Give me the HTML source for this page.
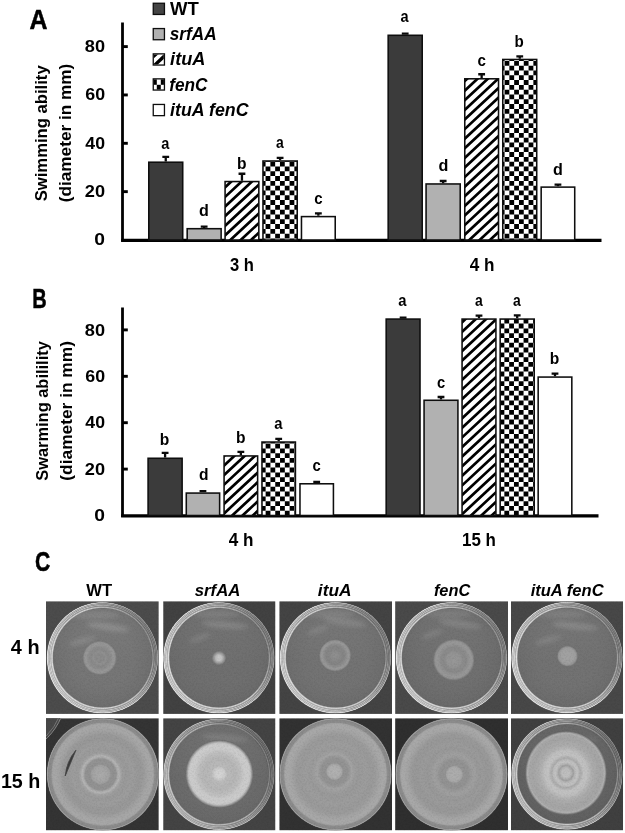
<!DOCTYPE html>
<html lang="en"><head><meta charset="utf-8"><title>Figure</title>
<style>html,body{margin:0;padding:0;background:#fff}body{width:625px;height:833px;overflow:hidden}svg{display:block}text{font-family:'Liberation Sans', 'DejaVu Sans', sans-serif;font-weight:bold;fill:#000}</style></head><body>
<svg width="625" height="833" viewBox="0 0 625 833">
<defs>
<clipPath id="csw3"><rect x="153.9" y="54.5" width="9.9" height="9.9"/></clipPath>
<filter id="noise" x="0" y="0" width="100%" height="100%" color-interpolation-filters="sRGB"><feTurbulence type="fractalNoise" baseFrequency="0.55" numOctaves="2" seed="7"/><feColorMatrix type="matrix" values="0 0 0 0 0  0 0 0 0 0  0 0 0 0 0  -0.7 0 0 0 0.42"/></filter>
<filter id="b1" x="-10%" y="-10%" width="120%" height="120%"><feGaussianBlur stdDeviation="0.7"/></filter>
<filter id="b2" x="-30%" y="-100%" width="160%" height="300%"><feGaussianBlur stdDeviation="2.2"/></filter>
<linearGradient id="rimshade" x1="0" y1="0.75" x2="1" y2="0.25"><stop offset="0" stop-color="#fff" stop-opacity="0.32"/><stop offset="0.45" stop-color="#fff" stop-opacity="0.0"/><stop offset="0.55" stop-color="#000" stop-opacity="0.0"/><stop offset="1" stop-color="#000" stop-opacity="0.34"/></linearGradient>
<linearGradient id="toplight" x1="0" y1="0" x2="0" y2="1"><stop offset="0" stop-color="#fff" stop-opacity="1"/><stop offset="0.55" stop-color="#fff" stop-opacity="0"/><stop offset="1" stop-color="#000" stop-opacity="0.35"/></linearGradient>
<radialGradient id="c1" gradientUnits="userSpaceOnUse" cx="99.70" cy="657.90" r="17.00"><stop offset="0.0000" stop-color="#8e8e8e"/><stop offset="0.2353" stop-color="#8b8b8b"/><stop offset="0.3529" stop-color="#919191"/><stop offset="0.5000" stop-color="#8a8a8a"/><stop offset="0.6471" stop-color="#8e8e8e"/><stop offset="0.7941" stop-color="#989898"/><stop offset="0.9000" stop-color="#969696"/><stop offset="0.9647" stop-color="#828282"/><stop offset="1.0000" stop-color="#787878"/></radialGradient>
<clipPath id="ct1"><rect x="46.00" y="601.20" width="112.80" height="112.70"/></clipPath>
<clipPath id="cd1"><circle cx="102.50" cy="657.80" r="49.6"/></clipPath>
<radialGradient id="dg1" gradientUnits="userSpaceOnUse" cx="102.50" cy="657.80" r="55.72"><stop offset="0.0000" stop-color="#777777"/><stop offset="0.5384" stop-color="#767676"/><stop offset="0.8256" stop-color="#717171"/><stop offset="0.8848" stop-color="#6f6f6f"/><stop offset="0.8948" stop-color="#a5a5a5"/><stop offset="0.9065" stop-color="#dadada"/><stop offset="0.9182" stop-color="#acacac"/><stop offset="0.9299" stop-color="#969696"/><stop offset="0.9416" stop-color="#c8c8c8"/><stop offset="0.9533" stop-color="#9a9a9a"/><stop offset="0.9649" stop-color="#bababa"/><stop offset="0.9766" stop-color="#a0a0a0"/><stop offset="0.9850" stop-color="#dcdcdc"/><stop offset="0.9950" stop-color="#d2d2d2"/><stop offset="1.0000" stop-color="#787878"/></radialGradient>
<radialGradient id="c2" gradientUnits="userSpaceOnUse" cx="219.00" cy="658.00" r="7.60"><stop offset="0.0000" stop-color="#c8c8c8"/><stop offset="0.3289" stop-color="#c2c2c2"/><stop offset="0.5263" stop-color="#aeaeae"/><stop offset="0.7237" stop-color="#929292"/><stop offset="0.9211" stop-color="#747474"/><stop offset="1.0000" stop-color="#6e6e6e"/></radialGradient>
<clipPath id="ct2"><rect x="163.15" y="601.20" width="112.35" height="112.70"/></clipPath>
<clipPath id="cd2"><circle cx="218.90" cy="657.80" r="49.6"/></clipPath>
<radialGradient id="dg2" gradientUnits="userSpaceOnUse" cx="218.90" cy="657.80" r="55.72"><stop offset="0.0000" stop-color="#707070"/><stop offset="0.5384" stop-color="#6f6f6f"/><stop offset="0.8256" stop-color="#6c6c6c"/><stop offset="0.8848" stop-color="#6a6a6a"/><stop offset="0.8948" stop-color="#a5a5a5"/><stop offset="0.9065" stop-color="#dadada"/><stop offset="0.9182" stop-color="#acacac"/><stop offset="0.9299" stop-color="#969696"/><stop offset="0.9416" stop-color="#c8c8c8"/><stop offset="0.9533" stop-color="#9a9a9a"/><stop offset="0.9649" stop-color="#bababa"/><stop offset="0.9766" stop-color="#a0a0a0"/><stop offset="0.9850" stop-color="#dcdcdc"/><stop offset="0.9950" stop-color="#d2d2d2"/><stop offset="1.0000" stop-color="#787878"/></radialGradient>
<radialGradient id="c3" gradientUnits="userSpaceOnUse" cx="335.10" cy="655.40" r="16.20"><stop offset="0.0000" stop-color="#929292"/><stop offset="0.1235" stop-color="#8e8e8e"/><stop offset="0.3704" stop-color="#878787"/><stop offset="0.5556" stop-color="#858585"/><stop offset="0.7099" stop-color="#8f8f8f"/><stop offset="0.8148" stop-color="#999999"/><stop offset="0.9012" stop-color="#939393"/><stop offset="0.9630" stop-color="#7c7c7c"/><stop offset="1.0000" stop-color="#737373"/></radialGradient>
<clipPath id="ct3"><rect x="279.25" y="601.20" width="112.75" height="112.70"/></clipPath>
<clipPath id="cd3"><circle cx="335.50" cy="657.80" r="49.6"/></clipPath>
<radialGradient id="dg3" gradientUnits="userSpaceOnUse" cx="335.50" cy="657.80" r="55.72"><stop offset="0.0000" stop-color="#747474"/><stop offset="0.5384" stop-color="#737373"/><stop offset="0.8256" stop-color="#6f6f6f"/><stop offset="0.8848" stop-color="#6d6d6d"/><stop offset="0.8948" stop-color="#a5a5a5"/><stop offset="0.9065" stop-color="#dadada"/><stop offset="0.9182" stop-color="#acacac"/><stop offset="0.9299" stop-color="#969696"/><stop offset="0.9416" stop-color="#c8c8c8"/><stop offset="0.9533" stop-color="#9a9a9a"/><stop offset="0.9649" stop-color="#bababa"/><stop offset="0.9766" stop-color="#a0a0a0"/><stop offset="0.9850" stop-color="#dcdcdc"/><stop offset="0.9950" stop-color="#d2d2d2"/><stop offset="1.0000" stop-color="#787878"/></radialGradient>
<radialGradient id="c4" gradientUnits="userSpaceOnUse" cx="453.80" cy="659.80" r="20.80"><stop offset="0.0000" stop-color="#9a9a9a"/><stop offset="0.0962" stop-color="#969696"/><stop offset="0.3365" stop-color="#949494"/><stop offset="0.4327" stop-color="#8c8c8c"/><stop offset="0.6010" stop-color="#8a8a8a"/><stop offset="0.6971" stop-color="#929292"/><stop offset="0.8173" stop-color="#989898"/><stop offset="0.9038" stop-color="#949494"/><stop offset="0.9615" stop-color="#7e7e7e"/><stop offset="1.0000" stop-color="#747474"/></radialGradient>
<clipPath id="ct4"><rect x="395.10" y="601.20" width="112.90" height="112.70"/></clipPath>
<clipPath id="cd4"><circle cx="451.50" cy="657.80" r="49.6"/></clipPath>
<radialGradient id="dg4" gradientUnits="userSpaceOnUse" cx="451.50" cy="657.80" r="55.72"><stop offset="0.0000" stop-color="#717171"/><stop offset="0.5384" stop-color="#707070"/><stop offset="0.8256" stop-color="#6c6c6c"/><stop offset="0.8848" stop-color="#6a6a6a"/><stop offset="0.8948" stop-color="#a5a5a5"/><stop offset="0.9065" stop-color="#dadada"/><stop offset="0.9182" stop-color="#acacac"/><stop offset="0.9299" stop-color="#969696"/><stop offset="0.9416" stop-color="#c8c8c8"/><stop offset="0.9533" stop-color="#9a9a9a"/><stop offset="0.9649" stop-color="#bababa"/><stop offset="0.9766" stop-color="#a0a0a0"/><stop offset="0.9850" stop-color="#dcdcdc"/><stop offset="0.9950" stop-color="#d2d2d2"/><stop offset="1.0000" stop-color="#787878"/></radialGradient>
<radialGradient id="c5" gradientUnits="userSpaceOnUse" cx="567.50" cy="656.10" r="10.80"><stop offset="0.0000" stop-color="#a2a2a2"/><stop offset="0.5556" stop-color="#a0a0a0"/><stop offset="0.7407" stop-color="#9c9c9c"/><stop offset="0.8519" stop-color="#929292"/><stop offset="0.9444" stop-color="#787878"/><stop offset="1.0000" stop-color="#717171"/></radialGradient>
<clipPath id="ct5"><rect x="511.00" y="601.20" width="112.10" height="112.70"/></clipPath>
<clipPath id="cd5"><circle cx="567.00" cy="657.50" r="49.6"/></clipPath>
<radialGradient id="dg5" gradientUnits="userSpaceOnUse" cx="567.00" cy="657.50" r="55.72"><stop offset="0.0000" stop-color="#737373"/><stop offset="0.5384" stop-color="#727272"/><stop offset="0.8256" stop-color="#6e6e6e"/><stop offset="0.8848" stop-color="#6c6c6c"/><stop offset="0.8948" stop-color="#a5a5a5"/><stop offset="0.9065" stop-color="#dadada"/><stop offset="0.9182" stop-color="#acacac"/><stop offset="0.9299" stop-color="#969696"/><stop offset="0.9416" stop-color="#c8c8c8"/><stop offset="0.9533" stop-color="#9a9a9a"/><stop offset="0.9649" stop-color="#bababa"/><stop offset="0.9766" stop-color="#a0a0a0"/><stop offset="0.9850" stop-color="#dcdcdc"/><stop offset="0.9950" stop-color="#d2d2d2"/><stop offset="1.0000" stop-color="#787878"/></radialGradient>
<radialGradient id="c6" gradientUnits="userSpaceOnUse" cx="100.60" cy="774.40" r="24.00"><stop offset="0.0000" stop-color="#acacac"/><stop offset="0.1250" stop-color="#a8a8a8"/><stop offset="0.2500" stop-color="#a6a6a6"/><stop offset="0.3750" stop-color="#a0a0a0"/><stop offset="0.4375" stop-color="#929292"/><stop offset="0.6458" stop-color="#939393"/><stop offset="0.7167" stop-color="#acacac"/><stop offset="0.7750" stop-color="#b4b4b4"/><stop offset="0.8333" stop-color="#a6a6a6"/><stop offset="0.9167" stop-color="#9d9d9d"/><stop offset="1.0000" stop-color="#9b9b9b"/></radialGradient>
<clipPath id="ct6"><rect x="46.00" y="718.20" width="112.80" height="112.20"/></clipPath>
<clipPath id="cd6"><circle cx="102.90" cy="774.30" r="49.6"/></clipPath>
<radialGradient id="dg6" gradientUnits="userSpaceOnUse" cx="102.90" cy="774.30" r="56.20"><stop offset="0.0000" stop-color="#9a9a9a"/><stop offset="0.4270" stop-color="#9a9a9a"/><stop offset="0.5338" stop-color="#9d9d9d"/><stop offset="0.6406" stop-color="#989898"/><stop offset="0.7117" stop-color="#9a9a9a"/><stop offset="0.7829" stop-color="#a3a3a3"/><stop offset="0.8363" stop-color="#a7a7a7"/><stop offset="0.8897" stop-color="#a7a7a7"/><stop offset="0.9075" stop-color="#9f9f9f"/><stop offset="0.9217" stop-color="#8e8e8e"/><stop offset="0.9715" stop-color="#888888"/><stop offset="0.9822" stop-color="#a0a0a0"/><stop offset="0.9929" stop-color="#969696"/><stop offset="1.0000" stop-color="#5a5a5a"/></radialGradient>
<radialGradient id="c7" gradientUnits="userSpaceOnUse" cx="219.40" cy="773.90" r="34.10"><stop offset="0.0000" stop-color="#d4d4d4"/><stop offset="0.1173" stop-color="#d2d2d2"/><stop offset="0.1760" stop-color="#c8c8c8"/><stop offset="0.2346" stop-color="#bababa"/><stop offset="0.4692" stop-color="#b6b6b6"/><stop offset="0.6158" stop-color="#bebebe"/><stop offset="0.7331" stop-color="#cacaca"/><stop offset="0.8651" stop-color="#cccccc"/><stop offset="0.9091" stop-color="#c2c2c2"/><stop offset="0.9531" stop-color="#969696"/><stop offset="0.9824" stop-color="#747474"/><stop offset="1.0000" stop-color="#6a6a6a"/></radialGradient>
<clipPath id="ct7"><rect x="163.15" y="718.20" width="112.35" height="112.20"/></clipPath>
<clipPath id="cd7"><circle cx="218.90" cy="774.30" r="49.6"/></clipPath>
<radialGradient id="dg7" gradientUnits="userSpaceOnUse" cx="218.90" cy="774.30" r="55.72"><stop offset="0.0000" stop-color="#6e6e6e"/><stop offset="0.5384" stop-color="#6d6d6d"/><stop offset="0.8256" stop-color="#6a6a6a"/><stop offset="0.8848" stop-color="#686868"/><stop offset="0.8948" stop-color="#8e8e8e"/><stop offset="0.9065" stop-color="#bbbbbb"/><stop offset="0.9182" stop-color="#949494"/><stop offset="0.9299" stop-color="#818181"/><stop offset="0.9416" stop-color="#acacac"/><stop offset="0.9533" stop-color="#848484"/><stop offset="0.9649" stop-color="#a0a0a0"/><stop offset="0.9766" stop-color="#8a8a8a"/><stop offset="0.9850" stop-color="#bdbdbd"/><stop offset="0.9950" stop-color="#b5b5b5"/><stop offset="1.0000" stop-color="#676767"/></radialGradient>
<radialGradient id="c8" gradientUnits="userSpaceOnUse" cx="334.50" cy="771.60" r="24.00"><stop offset="0.0000" stop-color="#b2b2b2"/><stop offset="0.2500" stop-color="#aeaeae"/><stop offset="0.3167" stop-color="#a4a4a4"/><stop offset="0.3583" stop-color="#939393"/><stop offset="0.5417" stop-color="#939393"/><stop offset="0.6458" stop-color="#9b9b9b"/><stop offset="0.7292" stop-color="#a4a4a4"/><stop offset="0.8333" stop-color="#9e9e9e"/><stop offset="1.0000" stop-color="#9a9a9a"/></radialGradient>
<clipPath id="ct8"><rect x="279.25" y="718.20" width="112.75" height="112.20"/></clipPath>
<clipPath id="cd8"><circle cx="335.50" cy="774.30" r="49.6"/></clipPath>
<radialGradient id="dg8" gradientUnits="userSpaceOnUse" cx="335.50" cy="774.30" r="56.20"><stop offset="0.0000" stop-color="#9a9a9a"/><stop offset="0.4270" stop-color="#9a9a9a"/><stop offset="0.5338" stop-color="#9d9d9d"/><stop offset="0.6406" stop-color="#9a9a9a"/><stop offset="0.7117" stop-color="#9c9c9c"/><stop offset="0.7829" stop-color="#a4a4a4"/><stop offset="0.8363" stop-color="#a8a8a8"/><stop offset="0.8897" stop-color="#a8a8a8"/><stop offset="0.9075" stop-color="#a0a0a0"/><stop offset="0.9217" stop-color="#8e8e8e"/><stop offset="0.9715" stop-color="#888888"/><stop offset="0.9822" stop-color="#a0a0a0"/><stop offset="0.9929" stop-color="#969696"/><stop offset="1.0000" stop-color="#5a5a5a"/></radialGradient>
<radialGradient id="c9" gradientUnits="userSpaceOnUse" cx="454.30" cy="774.40" r="27.00"><stop offset="0.0000" stop-color="#adadad"/><stop offset="0.2222" stop-color="#ababab"/><stop offset="0.2889" stop-color="#a5a5a5"/><stop offset="0.3259" stop-color="#949494"/><stop offset="0.5185" stop-color="#929292"/><stop offset="0.6296" stop-color="#9b9b9b"/><stop offset="0.7407" stop-color="#a0a0a0"/><stop offset="0.8889" stop-color="#9a9a9a"/><stop offset="1.0000" stop-color="#989898"/></radialGradient>
<clipPath id="ct9"><rect x="395.10" y="718.20" width="112.90" height="112.20"/></clipPath>
<clipPath id="cd9"><circle cx="451.50" cy="774.30" r="49.6"/></clipPath>
<radialGradient id="dg9" gradientUnits="userSpaceOnUse" cx="451.50" cy="774.30" r="56.20"><stop offset="0.0000" stop-color="#989898"/><stop offset="0.4270" stop-color="#989898"/><stop offset="0.5338" stop-color="#9b9b9b"/><stop offset="0.6406" stop-color="#989898"/><stop offset="0.7117" stop-color="#9a9a9a"/><stop offset="0.7829" stop-color="#a4a4a4"/><stop offset="0.8363" stop-color="#a8a8a8"/><stop offset="0.8897" stop-color="#a8a8a8"/><stop offset="0.9075" stop-color="#a0a0a0"/><stop offset="0.9217" stop-color="#8e8e8e"/><stop offset="0.9715" stop-color="#888888"/><stop offset="0.9822" stop-color="#a0a0a0"/><stop offset="0.9929" stop-color="#969696"/><stop offset="1.0000" stop-color="#5a5a5a"/></radialGradient>
<radialGradient id="c10" gradientUnits="userSpaceOnUse" cx="566.00" cy="773.00" r="42.40"><stop offset="0.0000" stop-color="#c0c0c0"/><stop offset="0.0943" stop-color="#bebebe"/><stop offset="0.1415" stop-color="#b0b0b0"/><stop offset="0.1769" stop-color="#a0a0a0"/><stop offset="0.2123" stop-color="#b4b4b4"/><stop offset="0.2594" stop-color="#c2c2c2"/><stop offset="0.3066" stop-color="#bebebe"/><stop offset="0.3420" stop-color="#acacac"/><stop offset="0.3774" stop-color="#b2b2b2"/><stop offset="0.4245" stop-color="#c2c2c2"/><stop offset="0.5189" stop-color="#c0c0c0"/><stop offset="0.5896" stop-color="#b4b4b4"/><stop offset="0.6604" stop-color="#acacac"/><stop offset="0.8019" stop-color="#a5a5a5"/><stop offset="0.8962" stop-color="#a7a7a7"/><stop offset="0.9340" stop-color="#b0b0b0"/><stop offset="0.9575" stop-color="#969696"/><stop offset="0.9811" stop-color="#6e6e6e"/><stop offset="1.0000" stop-color="#626262"/></radialGradient>
<clipPath id="ct10"><rect x="511.00" y="718.20" width="112.10" height="112.20"/></clipPath>
<clipPath id="cd10"><circle cx="567.00" cy="774.00" r="49.6"/></clipPath>
<radialGradient id="dg10" gradientUnits="userSpaceOnUse" cx="567.00" cy="774.00" r="55.72"><stop offset="0.0000" stop-color="#666666"/><stop offset="0.5384" stop-color="#656565"/><stop offset="0.8256" stop-color="#626262"/><stop offset="0.8848" stop-color="#606060"/><stop offset="0.8948" stop-color="#949494"/><stop offset="0.9065" stop-color="#c4c4c4"/><stop offset="0.9182" stop-color="#9b9b9b"/><stop offset="0.9299" stop-color="#878787"/><stop offset="0.9416" stop-color="#b4b4b4"/><stop offset="0.9533" stop-color="#8b8b8b"/><stop offset="0.9649" stop-color="#a7a7a7"/><stop offset="0.9766" stop-color="#909090"/><stop offset="0.9850" stop-color="#c6c6c6"/><stop offset="0.9950" stop-color="#bdbdbd"/><stop offset="1.0000" stop-color="#6c6c6c"/></radialGradient>
<clipPath id="hc1"><rect x="225.08" y="181.55" width="33.75" height="58.45"/></clipPath>
<clipPath id="kc2"><rect x="262.97" y="161.00" width="34.25" height="79.00"/></clipPath>
<clipPath id="hc3"><rect x="464.77" y="78.80" width="33.75" height="161.20"/></clipPath>
<clipPath id="kc4"><rect x="502.77" y="59.46" width="33.95" height="180.54"/></clipPath>
<clipPath id="hc5"><rect x="224.08" y="455.95" width="33.55" height="59.55"/></clipPath>
<clipPath id="kc6"><rect x="261.97" y="442.03" width="33.45" height="73.47"/></clipPath>
<clipPath id="hc7"><rect x="462.07" y="319.07" width="33.85" height="196.43"/></clipPath>
<clipPath id="kc8"><rect x="500.17" y="319.07" width="34.05" height="196.43"/></clipPath>
</defs>
<path d="M122.5 22.50V241.50" stroke="#000" stroke-width="2.8" fill="none"/>
<path d="M121.1 240.40H601.50" stroke="#000" stroke-width="3.1" fill="none"/>
<path d="M122.5 46.60H127.8" stroke="#000" stroke-width="2.9" fill="none"/>
<path d="M122.5 94.95H127.8" stroke="#000" stroke-width="2.9" fill="none"/>
<path d="M122.5 143.30H127.8" stroke="#000" stroke-width="2.9" fill="none"/>
<path d="M122.5 191.65H127.8" stroke="#000" stroke-width="2.9" fill="none"/>
<path d="M122.5 307.50V517.00" stroke="#000" stroke-width="2.8" fill="none"/>
<path d="M121.1 515.90H598.50" stroke="#000" stroke-width="3.1" fill="none"/>
<path d="M122.5 329.90H127.8" stroke="#000" stroke-width="2.9" fill="none"/>
<path d="M122.5 376.30H127.8" stroke="#000" stroke-width="2.9" fill="none"/>
<path d="M122.5 422.70H127.8" stroke="#000" stroke-width="2.9" fill="none"/>
<path d="M122.5 469.10H127.8" stroke="#000" stroke-width="2.9" fill="none"/>
<path d="M165.75 161.43V156.83M162.35 156.83H169.15" stroke="#0a0a0a" stroke-width="2.3" fill="none"/>
<rect x="148.78" y="162.21" width="33.95" height="77.79" fill="#3b3b3b"/>
<rect x="148.78" y="162.21" width="33.95" height="77.79" fill="none" stroke="#0e0e0e" stroke-width="1.55"/>
<path d="M204.15 227.91V226.71M200.75 226.71H207.55" stroke="#0a0a0a" stroke-width="2.3" fill="none"/>
<rect x="187.18" y="228.69" width="33.95" height="11.31" fill="#b1b1b1"/>
<rect x="187.18" y="228.69" width="33.95" height="11.31" fill="none" stroke="#0e0e0e" stroke-width="1.55"/>
<path d="M241.95 180.77V173.77M238.55 173.77H245.35" stroke="#0a0a0a" stroke-width="2.3" fill="none"/>
<rect x="225.08" y="181.55" width="33.75" height="58.45" fill="#fff"/>
<path clip-path="url(#hc1)" d="M223.08 179.58L260.83 144.47M223.08 189.18L260.83 154.07M223.08 198.78L260.83 163.67M223.08 208.38L260.83 173.27M223.08 217.98L260.83 182.87M223.08 227.58L260.83 192.47M223.08 237.18L260.83 202.07M223.08 246.78L260.83 211.67M223.08 256.38L260.83 221.27M223.08 265.98L260.83 230.87M223.08 275.58L260.83 240.47M223.08 285.18L260.83 250.07" stroke="#000" stroke-width="2.70" fill="none"/>
<rect x="225.08" y="181.55" width="33.75" height="58.45" fill="none" stroke="#0e0e0e" stroke-width="1.55"/>
<path d="M280.10 160.22V157.82M276.70 157.82H283.50" stroke="#0a0a0a" stroke-width="2.3" fill="none"/>
<rect x="262.97" y="161.00" width="34.25" height="79.00" fill="#fff"/>
<path clip-path="url(#kc2)" d="M258.36 147.30V242.00M267.96 147.30V242.00M277.56 147.30V242.00M287.16 147.30V242.00M296.76 147.30V242.00M306.36 147.30V242.00" stroke="#000" stroke-width="4.80" stroke-dasharray="4.80 4.80" fill="none"/><path clip-path="url(#kc2)" d="M263.16 152.10V242.00M272.76 152.10V242.00M282.36 152.10V242.00M291.96 152.10V242.00M301.56 152.10V242.00" stroke="#000" stroke-width="4.80" stroke-dasharray="4.80 4.80" fill="none"/>
<rect x="262.97" y="161.00" width="34.25" height="79.00" fill="none" stroke="#0e0e0e" stroke-width="1.55"/>
<path d="M318.35 215.82V213.42M314.95 213.42H321.75" stroke="#0a0a0a" stroke-width="2.3" fill="none"/>
<rect x="301.47" y="216.60" width="33.75" height="23.40" fill="#fff"/>
<rect x="301.47" y="216.60" width="33.75" height="23.40" fill="none" stroke="#0e0e0e" stroke-width="1.55"/>
<path d="M405.20 34.51V33.71M401.80 33.71H408.60" stroke="#0a0a0a" stroke-width="2.3" fill="none"/>
<rect x="388.17" y="35.29" width="34.05" height="204.71" fill="#3b3b3b"/>
<rect x="388.17" y="35.29" width="34.05" height="204.71" fill="none" stroke="#0e0e0e" stroke-width="1.55"/>
<path d="M443.15 183.19V180.99M439.75 180.99H446.55" stroke="#0a0a0a" stroke-width="2.3" fill="none"/>
<rect x="426.07" y="183.96" width="34.15" height="56.04" fill="#b1b1b1"/>
<rect x="426.07" y="183.96" width="34.15" height="56.04" fill="none" stroke="#0e0e0e" stroke-width="1.55"/>
<path d="M481.65 78.03V74.23M478.25 74.23H485.05" stroke="#0a0a0a" stroke-width="2.3" fill="none"/>
<rect x="464.77" y="78.80" width="33.75" height="161.20" fill="#fff"/>
<path clip-path="url(#hc3)" d="M462.77 73.28L500.53 38.17M462.77 82.88L500.53 47.77M462.77 92.48L500.53 57.37M462.77 102.08L500.53 66.97M462.77 111.68L500.53 76.57M462.77 121.28L500.53 86.17M462.77 130.88L500.53 95.77M462.77 140.48L500.53 105.37M462.77 150.08L500.53 114.97M462.77 159.68L500.53 124.57M462.77 169.28L500.53 134.17M462.77 178.88L500.53 143.77M462.77 188.48L500.53 153.37M462.77 198.08L500.53 162.97M462.77 207.68L500.53 172.57M462.77 217.28L500.53 182.17M462.77 226.88L500.53 191.77M462.77 236.48L500.53 201.37M462.77 246.08L500.53 210.97M462.77 255.68L500.53 220.57M462.77 265.28L500.53 230.17M462.77 274.88L500.53 239.77M462.77 284.48L500.53 249.37" stroke="#000" stroke-width="2.70" fill="none"/>
<rect x="464.77" y="78.80" width="33.75" height="161.20" fill="none" stroke="#0e0e0e" stroke-width="1.55"/>
<path d="M519.75 58.69V56.29M516.35 56.29H523.15" stroke="#0a0a0a" stroke-width="2.3" fill="none"/>
<rect x="502.77" y="59.46" width="33.95" height="180.54" fill="#fff"/>
<path clip-path="url(#kc4)" d="M497.36 41.70V242.00M506.96 41.70V242.00M516.56 41.70V242.00M526.16 41.70V242.00M535.76 41.70V242.00M545.36 41.70V242.00" stroke="#000" stroke-width="4.80" stroke-dasharray="4.80 4.80" fill="none"/><path clip-path="url(#kc4)" d="M502.16 46.50V242.00M511.76 46.50V242.00M521.36 46.50V242.00M530.96 46.50V242.00M540.56 46.50V242.00" stroke="#000" stroke-width="4.80" stroke-dasharray="4.80 4.80" fill="none"/>
<rect x="502.77" y="59.46" width="33.95" height="180.54" fill="none" stroke="#0e0e0e" stroke-width="1.55"/>
<path d="M557.95 186.33V184.53M554.55 184.53H561.35" stroke="#0a0a0a" stroke-width="2.3" fill="none"/>
<rect x="541.17" y="187.11" width="33.55" height="52.89" fill="#fff"/>
<rect x="541.17" y="187.11" width="33.55" height="52.89" fill="none" stroke="#0e0e0e" stroke-width="1.55"/>
<path d="M165.10 457.50V452.90M161.70 452.90H168.50" stroke="#0a0a0a" stroke-width="2.3" fill="none"/>
<rect x="148.08" y="458.27" width="34.05" height="57.23" fill="#3b3b3b"/>
<rect x="148.08" y="458.27" width="34.05" height="57.23" fill="none" stroke="#0e0e0e" stroke-width="1.55"/>
<path d="M202.95 492.30V491.20M199.55 491.20H206.35" stroke="#0a0a0a" stroke-width="2.3" fill="none"/>
<rect x="186.28" y="493.07" width="33.35" height="22.43" fill="#b1b1b1"/>
<rect x="186.28" y="493.07" width="33.35" height="22.43" fill="none" stroke="#0e0e0e" stroke-width="1.55"/>
<path d="M240.85 455.18V451.78M237.45 451.78H244.25" stroke="#0a0a0a" stroke-width="2.3" fill="none"/>
<rect x="224.08" y="455.95" width="33.55" height="59.55" fill="#fff"/>
<path clip-path="url(#hc5)" d="M222.08 448.13L259.62 413.21M222.08 457.73L259.62 422.81M222.08 467.33L259.62 432.41M222.08 476.93L259.62 442.01M222.08 486.53L259.62 451.61M222.08 496.13L259.62 461.21M222.08 505.73L259.62 470.81M222.08 515.33L259.62 480.41M222.08 524.93L259.62 490.01M222.08 534.53L259.62 499.61M222.08 544.13L259.62 509.21M222.08 553.73L259.62 518.81" stroke="#000" stroke-width="2.70" fill="none"/>
<rect x="224.08" y="455.95" width="33.55" height="59.55" fill="none" stroke="#0e0e0e" stroke-width="1.55"/>
<path d="M278.70 441.26V438.96M275.30 438.96H282.10" stroke="#0a0a0a" stroke-width="2.3" fill="none"/>
<rect x="261.97" y="442.03" width="33.45" height="73.47" fill="#fff"/>
<path clip-path="url(#kc6)" d="M258.44 424.40V517.50M268.04 424.40V517.50M277.64 424.40V517.50M287.24 424.40V517.50M296.84 424.40V517.50M306.44 424.40V517.50" stroke="#000" stroke-width="4.80" stroke-dasharray="4.80 4.80" fill="none"/><path clip-path="url(#kc6)" d="M263.24 429.20V517.50M272.84 429.20V517.50M282.44 429.20V517.50M292.04 429.20V517.50M301.64 429.20V517.50" stroke="#000" stroke-width="4.80" stroke-dasharray="4.80 4.80" fill="none"/>
<rect x="261.97" y="442.03" width="33.45" height="73.47" fill="none" stroke="#0e0e0e" stroke-width="1.55"/>
<path d="M316.70 483.02V481.92M313.30 481.92H320.10" stroke="#0a0a0a" stroke-width="2.3" fill="none"/>
<rect x="299.97" y="483.79" width="33.45" height="31.71" fill="#fff"/>
<rect x="299.97" y="483.79" width="33.45" height="31.71" fill="none" stroke="#0e0e0e" stroke-width="1.55"/>
<path d="M403.10 318.30V317.70M399.70 317.70H406.50" stroke="#0a0a0a" stroke-width="2.3" fill="none"/>
<rect x="386.17" y="319.07" width="33.85" height="196.43" fill="#3b3b3b"/>
<rect x="386.17" y="319.07" width="33.85" height="196.43" fill="none" stroke="#0e0e0e" stroke-width="1.55"/>
<path d="M441.00 399.50V397.00M437.60 397.00H444.40" stroke="#0a0a0a" stroke-width="2.3" fill="none"/>
<rect x="424.07" y="400.27" width="33.85" height="115.23" fill="#b1b1b1"/>
<rect x="424.07" y="400.27" width="33.85" height="115.23" fill="none" stroke="#0e0e0e" stroke-width="1.55"/>
<path d="M479.00 318.30V315.70M475.60 315.70H482.40" stroke="#0a0a0a" stroke-width="2.3" fill="none"/>
<rect x="462.07" y="319.07" width="33.85" height="196.43" fill="#fff"/>
<path clip-path="url(#hc7)" d="M460.07 314.48L497.93 279.28M460.07 324.08L497.93 288.88M460.07 333.68L497.93 298.48M460.07 343.28L497.93 308.08M460.07 352.88L497.93 317.68M460.07 362.48L497.93 327.28M460.07 372.08L497.93 336.88M460.07 381.68L497.93 346.48M460.07 391.28L497.93 356.08M460.07 400.88L497.93 365.68M460.07 410.48L497.93 375.28M460.07 420.08L497.93 384.88M460.07 429.68L497.93 394.48M460.07 439.28L497.93 404.08M460.07 448.88L497.93 413.68M460.07 458.48L497.93 423.28M460.07 468.08L497.93 432.88M460.07 477.68L497.93 442.48M460.07 487.28L497.93 452.08M460.07 496.88L497.93 461.68M460.07 506.48L497.93 471.28M460.07 516.08L497.93 480.88M460.07 525.68L497.93 490.48M460.07 535.28L497.93 500.08M460.07 544.88L497.93 509.68M460.07 554.48L497.93 519.28" stroke="#000" stroke-width="2.70" fill="none"/>
<rect x="462.07" y="319.07" width="33.85" height="196.43" fill="none" stroke="#0e0e0e" stroke-width="1.55"/>
<path d="M517.20 318.30V315.40M513.80 315.40H520.60" stroke="#0a0a0a" stroke-width="2.3" fill="none"/>
<rect x="500.17" y="319.07" width="34.05" height="196.43" fill="#fff"/>
<path clip-path="url(#kc8)" d="M497.16 309.20V517.50M506.76 309.20V517.50M516.36 309.20V517.50M525.96 309.20V517.50M535.56 309.20V517.50M545.16 309.20V517.50" stroke="#000" stroke-width="4.80" stroke-dasharray="4.80 4.80" fill="none"/><path clip-path="url(#kc8)" d="M501.96 314.00V517.50M511.56 314.00V517.50M521.16 314.00V517.50M530.76 314.00V517.50M540.36 314.00V517.50" stroke="#000" stroke-width="4.80" stroke-dasharray="4.80 4.80" fill="none"/>
<rect x="500.17" y="319.07" width="34.05" height="196.43" fill="none" stroke="#0e0e0e" stroke-width="1.55"/>
<path d="M555.00 376.30V373.60M551.60 373.60H558.40" stroke="#0a0a0a" stroke-width="2.3" fill="none"/>
<rect x="538.17" y="377.07" width="33.65" height="138.43" fill="#fff"/>
<rect x="538.17" y="377.07" width="33.65" height="138.43" fill="none" stroke="#0e0e0e" stroke-width="1.55"/>
<rect x="153.25" y="3.25" width="11.20" height="11.20" fill="#444" stroke="#0e0e0e" stroke-width="1.30"/>
<rect x="153.25" y="28.55" width="11.20" height="11.20" fill="#b1b1b1" stroke="#0e0e0e" stroke-width="1.30"/>
<rect x="153.25" y="53.85" width="11.20" height="11.20" fill="#fff" stroke="#0e0e0e" stroke-width="1.30"/>
<rect x="153.25" y="78.85" width="11.20" height="11.20" fill="#fff" stroke="#0e0e0e" stroke-width="1.30"/>
<rect x="153.25" y="104.45" width="11.20" height="11.20" fill="#fff" stroke="#0e0e0e" stroke-width="1.30"/>
<g clip-path="url(#csw3)"><path d="M153.60 66.20L165.60 54.80" stroke="#000" stroke-width="3.4"/><path d="M150.60 58.80L158.60 51.80" stroke="#000" stroke-width="3.4"/></g>
<rect x="153.80" y="79.40" width="3.00" height="5.40" fill="#000"/>
<rect x="160.80" y="79.40" width="3.10" height="5.40" fill="#000"/>
<rect x="156.80" y="84.80" width="4.00" height="4.70" fill="#000"/>
<g clip-path="url(#ct1)">
<rect x="46.00" y="601.20" width="112.80" height="112.70" fill="#4c4c4c"/>
<circle cx="102.50" cy="657.80" r="55.72" fill="url(#dg1)"/>
<circle cx="102.50" cy="657.80" r="49.5" fill="url(#toplight)" opacity="0.04"/>
<g clip-path="url(#cd1)"><ellipse cx="108.0" cy="627.0" rx="22.0" ry="3.5" transform="rotate(8.0 108.0 627.0)" fill="#fff" opacity="0.16" filter="url(#b2)"/><ellipse cx="82.0" cy="641.0" rx="14.0" ry="3.0" transform="rotate(-15.0 82.0 641.0)" fill="#fff" opacity="0.12" filter="url(#b2)"/><ellipse cx="95.0" cy="615.0" rx="25.0" ry="4.0" transform="rotate(0.0 95.0 615.0)" fill="#fff" opacity="0.10" filter="url(#b2)"/><circle cx="99.70" cy="657.90" r="17.00" fill="url(#c1)" opacity="0.96"/></g>
<circle cx="102.50" cy="657.80" r="52.6" fill="none" stroke="url(#rimshade)" stroke-width="6.2"/>
<rect x="46.00" y="601.20" width="112.80" height="112.70" filter="url(#noise)" opacity="0.2"/>
</g>
<g clip-path="url(#ct2)">
<rect x="163.15" y="601.20" width="112.35" height="112.70" fill="#424242"/>
<circle cx="218.90" cy="657.80" r="55.72" fill="url(#dg2)"/>
<circle cx="218.90" cy="657.80" r="49.5" fill="url(#toplight)" opacity="0.04"/>
<g clip-path="url(#cd2)"><ellipse cx="225.0" cy="625.0" rx="24.0" ry="3.5" transform="rotate(5.0 225.0 625.0)" fill="#fff" opacity="0.14" filter="url(#b2)"/><ellipse cx="200.0" cy="638.0" rx="12.0" ry="3.0" transform="rotate(-20.0 200.0 638.0)" fill="#fff" opacity="0.10" filter="url(#b2)"/><ellipse cx="215.0" cy="614.0" rx="25.0" ry="4.0" transform="rotate(0.0 215.0 614.0)" fill="#fff" opacity="0.09" filter="url(#b2)"/><circle cx="219.00" cy="658.00" r="7.60" fill="url(#c2)"/></g>
<circle cx="218.90" cy="657.80" r="52.6" fill="none" stroke="url(#rimshade)" stroke-width="6.2"/>
<rect x="163.15" y="601.20" width="112.35" height="112.70" filter="url(#noise)" opacity="0.2"/>
</g>
<g clip-path="url(#ct3)">
<rect x="279.25" y="601.20" width="112.75" height="112.70" fill="#444444"/>
<circle cx="335.50" cy="657.80" r="55.72" fill="url(#dg3)"/>
<circle cx="335.50" cy="657.80" r="49.5" fill="url(#toplight)" opacity="0.04"/>
<g clip-path="url(#cd3)"><ellipse cx="345.0" cy="622.0" rx="22.0" ry="3.5" transform="rotate(8.0 345.0 622.0)" fill="#fff" opacity="0.13" filter="url(#b2)"/><ellipse cx="318.0" cy="630.0" rx="12.0" ry="3.0" transform="rotate(-20.0 318.0 630.0)" fill="#fff" opacity="0.10" filter="url(#b2)"/><ellipse cx="330.0" cy="614.0" rx="25.0" ry="4.0" transform="rotate(0.0 330.0 614.0)" fill="#fff" opacity="0.09" filter="url(#b2)"/><circle cx="335.10" cy="655.40" r="16.20" fill="url(#c3)"/></g>
<circle cx="335.50" cy="657.80" r="52.6" fill="none" stroke="url(#rimshade)" stroke-width="6.2"/>
<rect x="279.25" y="601.20" width="112.75" height="112.70" filter="url(#noise)" opacity="0.2"/>
</g>
<g clip-path="url(#ct4)">
<rect x="395.10" y="601.20" width="112.90" height="112.70" fill="#4a4a4a"/>
<circle cx="451.50" cy="657.80" r="55.72" fill="url(#dg4)"/>
<circle cx="451.50" cy="657.80" r="49.5" fill="url(#toplight)" opacity="0.04"/>
<g clip-path="url(#cd4)"><ellipse cx="460.0" cy="624.0" rx="22.0" ry="3.5" transform="rotate(8.0 460.0 624.0)" fill="#fff" opacity="0.13" filter="url(#b2)"/><ellipse cx="432.0" cy="634.0" rx="12.0" ry="3.0" transform="rotate(-20.0 432.0 634.0)" fill="#fff" opacity="0.10" filter="url(#b2)"/><ellipse cx="448.0" cy="614.0" rx="25.0" ry="4.0" transform="rotate(0.0 448.0 614.0)" fill="#fff" opacity="0.09" filter="url(#b2)"/><circle cx="453.80" cy="659.80" r="20.80" fill="url(#c4)"/></g>
<circle cx="451.50" cy="657.80" r="52.6" fill="none" stroke="url(#rimshade)" stroke-width="6.2"/>
<rect x="395.10" y="601.20" width="112.90" height="112.70" filter="url(#noise)" opacity="0.2"/>
</g>
<g clip-path="url(#ct5)">
<rect x="511.00" y="601.20" width="112.10" height="112.70" fill="#484848"/>
<circle cx="567.00" cy="657.50" r="55.72" fill="url(#dg5)"/>
<circle cx="567.00" cy="657.50" r="49.5" fill="url(#toplight)" opacity="0.04"/>
<g clip-path="url(#cd5)"><ellipse cx="575.0" cy="626.0" rx="24.0" ry="3.5" transform="rotate(6.0 575.0 626.0)" fill="#fff" opacity="0.14" filter="url(#b2)"/><ellipse cx="548.0" cy="640.0" rx="14.0" ry="3.0" transform="rotate(-15.0 548.0 640.0)" fill="#fff" opacity="0.11" filter="url(#b2)"/><ellipse cx="562.0" cy="614.0" rx="25.0" ry="4.0" transform="rotate(0.0 562.0 614.0)" fill="#fff" opacity="0.09" filter="url(#b2)"/><circle cx="567.50" cy="656.10" r="10.80" fill="url(#c5)"/></g>
<circle cx="567.00" cy="657.50" r="52.6" fill="none" stroke="url(#rimshade)" stroke-width="6.2"/>
<rect x="511.00" y="601.20" width="112.10" height="112.70" filter="url(#noise)" opacity="0.2"/>
</g>
<g clip-path="url(#ct6)">
<rect x="46.00" y="718.20" width="112.80" height="112.20" fill="#343434"/>
<circle cx="3" cy="693" r="63" fill="#484848" stroke="#8e8e8e" stroke-width="0.9"/><circle cx="3" cy="693" r="61" fill="none" stroke="#808080" stroke-width="0.8"/><circle cx="102.90" cy="774.30" r="56.20" fill="url(#dg6)"/>
<g clip-path="url(#cd6)"><circle cx="100.60" cy="774.40" r="24.00" fill="url(#c6)"/><path d="M75.9 750.2Q66.6 761 65.2 776.0Q70.6 763 75.9 750.2Z" fill="#3a3a3a" stroke="#444" stroke-width="0.8"/></g>
<rect x="46.00" y="718.20" width="112.80" height="112.20" filter="url(#noise)" opacity="0.2"/>
</g>
<g clip-path="url(#ct7)">
<rect x="163.15" y="718.20" width="112.35" height="112.20" fill="#444444"/>
<circle cx="218.90" cy="774.30" r="55.72" fill="url(#dg7)"/>
<circle cx="218.90" cy="774.30" r="49.5" fill="url(#toplight)" opacity="0.04"/>
<g clip-path="url(#cd7)"><ellipse cx="225.0" cy="738.0" rx="24.0" ry="3.5" transform="rotate(5.0 225.0 738.0)" fill="#fff" opacity="0.10" filter="url(#b2)"/><circle cx="219.40" cy="773.90" r="34.10" fill="url(#c7)" filter="url(#b1)"/></g>
<circle cx="218.90" cy="774.30" r="52.6" fill="none" stroke="url(#rimshade)" stroke-width="6.2"/>
<rect x="163.15" y="718.20" width="112.35" height="112.20" filter="url(#noise)" opacity="0.2"/>
</g>
<g clip-path="url(#ct8)">
<rect x="279.25" y="718.20" width="112.75" height="112.20" fill="#323232"/>
<circle cx="335.50" cy="774.30" r="56.20" fill="url(#dg8)"/>
<g clip-path="url(#cd8)"><circle cx="334.50" cy="771.60" r="24.00" fill="url(#c8)"/></g>
<rect x="279.25" y="718.20" width="112.75" height="112.20" filter="url(#noise)" opacity="0.2"/>
</g>
<g clip-path="url(#ct9)">
<rect x="395.10" y="718.20" width="112.90" height="112.20" fill="#2f2f2f"/>
<circle cx="451.50" cy="774.30" r="56.20" fill="url(#dg9)"/>
<g clip-path="url(#cd9)"><circle cx="454.30" cy="774.40" r="27.00" fill="url(#c9)"/></g>
<rect x="395.10" y="718.20" width="112.90" height="112.20" filter="url(#noise)" opacity="0.2"/>
</g>
<g clip-path="url(#ct10)">
<rect x="511.00" y="718.20" width="112.10" height="112.20" fill="#404040"/>
<circle cx="567.00" cy="774.00" r="55.72" fill="url(#dg10)"/>
<circle cx="567.00" cy="774.00" r="49.5" fill="url(#toplight)" opacity="0.04"/>
<g clip-path="url(#cd10)"><ellipse cx="575.0" cy="738.0" rx="24.0" ry="3.0" transform="rotate(5.0 575.0 738.0)" fill="#fff" opacity="0.08" filter="url(#b2)"/><circle cx="566.00" cy="773.00" r="42.40" fill="url(#c10)" transform="translate(566.00 773.00) scale(0.9717 1.0000) translate(-566.00 -773.00)" filter="url(#b1)"/></g>
<circle cx="567.00" cy="774.00" r="52.6" fill="none" stroke="url(#rimshade)" stroke-width="6.2"/>
<rect x="511.00" y="718.20" width="112.10" height="112.20" filter="url(#noise)" opacity="0.2"/>
</g>
<text id="A" x="29.47" y="28.80" font-size="27.00" stroke="#000" stroke-width="0.5" textLength="17.98" lengthAdjust="spacingAndGlyphs">A</text>
<text id="B" x="32.33" y="308.40" font-size="27.00" stroke="#000" stroke-width="0.5" textLength="14.44" lengthAdjust="spacingAndGlyphs">B</text>
<text id="C" x="34.90" y="571.00" font-size="27.00" stroke="#000" stroke-width="0.5" textLength="15.25" lengthAdjust="spacingAndGlyphs">C</text>
<text id="lg1" x="170.11" y="15.00" font-size="18.00" textLength="28.78" lengthAdjust="spacingAndGlyphs">WT</text>
<text id="lg2" x="169.73" y="39.90" font-size="18.00" font-style="italic" textLength="46.98" lengthAdjust="spacingAndGlyphs">srfAA</text>
<text id="lg3" x="170.08" y="65.30" font-size="18.00" font-style="italic" textLength="35.37" lengthAdjust="spacingAndGlyphs">ituA</text>
<text id="lg4" x="169.19" y="90.80" font-size="18.00" font-style="italic" textLength="38.34" lengthAdjust="spacingAndGlyphs">fenC</text>
<text id="lg5" x="170.12" y="116.00" font-size="18.00" font-style="italic" textLength="78.37" lengthAdjust="spacingAndGlyphs">ituA fenC</text>
<text id="ta80" x="84.80" y="52.00" font-size="17.00" textLength="20.24" lengthAdjust="spacingAndGlyphs">80</text>
<text id="tb80" x="84.80" y="335.50" font-size="17.00" textLength="20.24" lengthAdjust="spacingAndGlyphs">80</text>
<text id="ta60" x="85.25" y="100.35" font-size="17.00" textLength="19.84" lengthAdjust="spacingAndGlyphs">60</text>
<text id="tb60" x="85.25" y="381.90" font-size="17.00" textLength="19.84" lengthAdjust="spacingAndGlyphs">60</text>
<text id="ta40" x="85.39" y="148.70" font-size="17.00" textLength="19.69" lengthAdjust="spacingAndGlyphs">40</text>
<text id="tb40" x="85.39" y="428.30" font-size="17.00" textLength="19.69" lengthAdjust="spacingAndGlyphs">40</text>
<text id="ta20" x="84.78" y="197.05" font-size="17.00" textLength="20.26" lengthAdjust="spacingAndGlyphs">20</text>
<text id="tb20" x="84.78" y="474.70" font-size="17.00" textLength="20.26" lengthAdjust="spacingAndGlyphs">20</text>
<text id="ta0" x="94.37" y="245.40" font-size="17.00" textLength="10.73" lengthAdjust="spacingAndGlyphs">0</text>
<text id="tb0" x="94.37" y="521.10" font-size="17.00" textLength="10.73" lengthAdjust="spacingAndGlyphs">0</text>
<text id="xa1" x="230.06" y="270.80" font-size="18.00" textLength="23.96" lengthAdjust="spacingAndGlyphs">3 h</text>
<text id="xa2" x="469.64" y="270.80" font-size="18.00" textLength="24.75" lengthAdjust="spacingAndGlyphs">4 h</text>
<text id="xb1" x="228.64" y="546.00" font-size="18.00" textLength="24.71" lengthAdjust="spacingAndGlyphs">4 h</text>
<text id="xb2" x="462.02" y="546.00" font-size="18.00" textLength="33.92" lengthAdjust="spacingAndGlyphs">15 h</text>
<text id="ya1" transform="translate(47.40 201.34) rotate(-90)" x="0" y="0" font-size="17.30" textLength="136.02" lengthAdjust="spacingAndGlyphs">Swimming ability</text>
<text id="ya2" transform="translate(71.30 202.16) rotate(-90)" x="0" y="0" font-size="17.30" textLength="138.32" lengthAdjust="spacingAndGlyphs">(diameter in mm)</text>
<text id="yb1" transform="translate(47.90 480.79) rotate(-90)" x="0" y="0" font-size="17.30" textLength="139.59" lengthAdjust="spacingAndGlyphs">Swarming abilility</text>
<text id="yb2" transform="translate(71.50 480.66) rotate(-90)" x="0" y="0" font-size="17.30" textLength="139.59" lengthAdjust="spacingAndGlyphs">(diameter in mm)</text>
<text id="la1" x="161.18" y="149.00" font-size="17.00" textLength="8.10" lengthAdjust="spacingAndGlyphs">a</text>
<text id="la2" x="198.88" y="215.80" font-size="17.00" textLength="9.82" lengthAdjust="spacingAndGlyphs">d</text>
<text id="la3" x="237.04" y="169.00" font-size="17.00" textLength="9.52" lengthAdjust="spacingAndGlyphs">b</text>
<text id="la4" x="275.92" y="147.80" font-size="17.00" textLength="7.74" lengthAdjust="spacingAndGlyphs">a</text>
<text id="la5" x="314.14" y="203.80" font-size="17.00" textLength="8.38" lengthAdjust="spacingAndGlyphs">c</text>
<text id="la6" x="400.44" y="22.40" font-size="17.00" textLength="8.09" lengthAdjust="spacingAndGlyphs">a</text>
<text id="la7" x="438.59" y="171.40" font-size="17.00" textLength="9.87" lengthAdjust="spacingAndGlyphs">d</text>
<text id="la8" x="477.38" y="65.60" font-size="17.00" textLength="8.42" lengthAdjust="spacingAndGlyphs">c</text>
<text id="la9" x="514.57" y="47.00" font-size="17.00" textLength="9.24" lengthAdjust="spacingAndGlyphs">b</text>
<text id="la10" x="552.88" y="175.20" font-size="17.00" textLength="9.82" lengthAdjust="spacingAndGlyphs">d</text>
<text id="lb1" x="159.80" y="444.80" font-size="17.00" textLength="9.51" lengthAdjust="spacingAndGlyphs">b</text>
<text id="lb2" x="198.90" y="480.00" font-size="17.00" textLength="9.52" lengthAdjust="spacingAndGlyphs">d</text>
<text id="lb3" x="236.04" y="443.20" font-size="17.00" textLength="9.52" lengthAdjust="spacingAndGlyphs">b</text>
<text id="lb4" x="274.19" y="429.40" font-size="17.00" textLength="8.24" lengthAdjust="spacingAndGlyphs">a</text>
<text id="lb5" x="312.40" y="471.00" font-size="17.00" textLength="8.30" lengthAdjust="spacingAndGlyphs">c</text>
<text id="lb6" x="398.19" y="306.40" font-size="17.00" textLength="8.24" lengthAdjust="spacingAndGlyphs">a</text>
<text id="lb7" x="436.92" y="388.00" font-size="17.00" textLength="8.23" lengthAdjust="spacingAndGlyphs">c</text>
<text id="lb8" x="474.92" y="306.40" font-size="17.00" textLength="7.74" lengthAdjust="spacingAndGlyphs">a</text>
<text id="lb9" x="512.92" y="306.40" font-size="17.00" textLength="7.74" lengthAdjust="spacingAndGlyphs">a</text>
<text id="lb10" x="549.80" y="364.40" font-size="17.00" textLength="9.51" lengthAdjust="spacingAndGlyphs">b</text>
<text id="h1" x="86.25" y="596.00" font-size="17.00" textLength="25.82" lengthAdjust="spacingAndGlyphs">WT</text>
<text id="h2" x="194.74" y="596.30" font-size="17.00" font-style="italic" textLength="45.66" lengthAdjust="spacingAndGlyphs">srfAA</text>
<text id="h3" x="317.88" y="596.30" font-size="17.00" font-style="italic" textLength="33.68" lengthAdjust="spacingAndGlyphs">ituA</text>
<text id="h4" x="433.90" y="596.30" font-size="17.00" font-style="italic" textLength="36.36" lengthAdjust="spacingAndGlyphs">fenC</text>
<text id="h5" x="530.64" y="596.30" font-size="17.00" font-style="italic" textLength="72.97" lengthAdjust="spacingAndGlyphs">ituA fenC</text>
<text id="r1" x="10.82" y="653.80" font-size="20.00" textLength="28.74" lengthAdjust="spacingAndGlyphs">4 h</text>
<text id="r2" x="0.90" y="787.80" font-size="20.00" textLength="39.42" lengthAdjust="spacingAndGlyphs">15 h</text>
</svg></body></html>
